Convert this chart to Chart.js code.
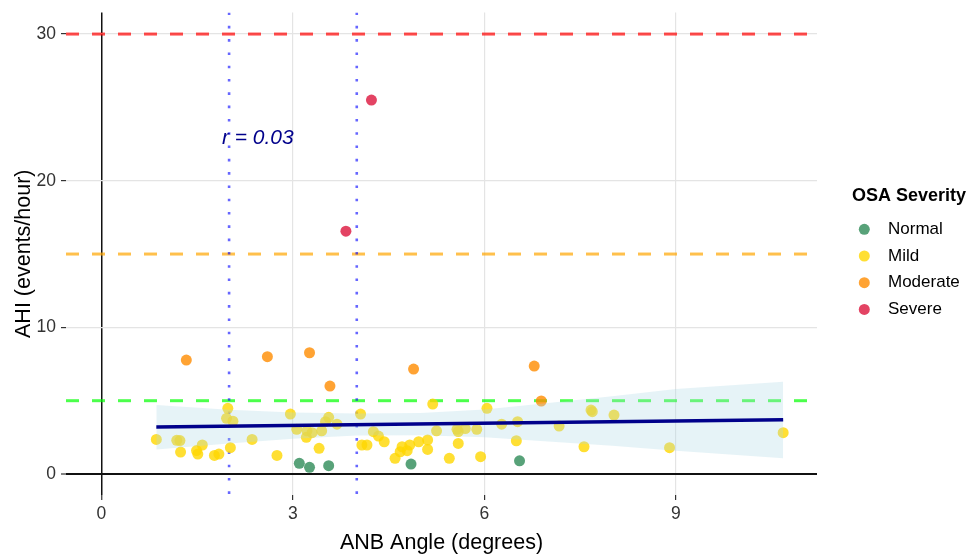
<!DOCTYPE html>
<html>
<head>
<meta charset="utf-8">
<script src="https://cdn.jsdelivr.net/npm/chart.js@4.4.1/dist/chart.umd.min.js"></script>
<style>
  html, body { margin: 0; padding: 0; background: #fff; }
  #wrap { width: 970px; height: 556px; }
</style>
</head>
<body>
<div id="wrap"><canvas id="chart" width="970" height="556"></canvas></div>
<script>
const FONT = '"Liberation Sans", Arial, Helvetica, sans-serif';

// points (ANB angle, AHI)
const normalX = [3.10, 3.26, 3.56, 4.85, 6.55];
const normalY = [0.73, 0.46, 0.57, 0.68, 0.90];

const mildX = [0.86, 1.18, 1.23, 1.24, 1.49, 1.51, 1.58, 1.77, 1.84, 1.96,
               1.98, 2.02, 2.06, 2.36, 2.75, 2.96, 3.06, 3.21, 3.22, 3.30,
               3.41, 3.45, 3.51, 3.56, 3.69, 4.06, 4.08, 4.16, 4.26, 4.34,
               4.43, 4.60, 4.68, 4.71, 4.79, 4.83, 4.97, 5.11, 5.11, 5.19,
               5.25, 5.45, 5.57, 5.59, 5.59, 5.70, 5.88, 5.94, 6.04, 6.27,
               6.50, 6.52, 7.17, 7.56, 7.67, 7.69, 8.03, 8.90, 10.68];
const mildY = [2.36, 2.30, 2.28, 1.50, 1.60, 1.36, 1.98, 1.27, 1.36, 3.80,
               4.48, 1.80, 3.60, 2.36, 1.27, 4.09, 3.05, 2.50, 2.95, 2.82,
               1.75, 2.95, 3.57, 3.87, 3.40, 4.09, 1.98, 1.98, 2.89, 2.59,
               2.20, 1.07, 1.52, 1.86, 1.59, 1.98, 2.20, 2.32, 1.68, 4.77,
               2.95, 1.07, 3.05, 2.90, 2.09, 3.10, 3.05, 1.18, 4.48, 3.40,
               2.27, 3.57, 3.27, 1.86, 4.36, 4.25, 4.02, 1.80, 2.82];

const moderateX = [1.33, 2.60, 3.26, 3.58, 4.89, 6.78, 6.89];
const moderateY = [7.77, 8.00, 8.27, 6.00, 7.16, 7.36, 4.98];

const severeX = [3.83, 4.23];
const severeY = [16.56, 25.50];

// linear fit and its confidence band
const regX = [0.86, 10.68];
const regY = [3.20, 3.70];
const bandX = [0.86, 2, 3, 4, 5, 6, 7, 8, 9, 10.68];
const bandUpper = [4.70, 4.38, 4.20, 4.13, 4.16, 4.40, 4.85, 5.30, 5.80, 6.29];
const bandLower = [1.68, 2.08, 2.40, 2.62, 2.64, 2.50, 2.22, 1.92, 1.58, 1.07];

// reference lines
const cutoffs = [5, 15, 30];
const cutoffColors = ['rgba(0,255,0,0.7)', 'rgba(255,165,0,0.7)', 'rgba(255,0,0,0.7)'];
const anbLimits = [2, 4];

const xTicks = [0, 3, 6, 9];
const yTicks = [0, 10, 20, 30];
const xMin = -0.555, xMax = 11.21;
const yMin = -1.43, yMax = 31.47;

const severityNames = ['Normal', 'Mild', 'Moderate', 'Severe'];
const severityColors = ['rgba(46,139,87,0.8)', 'rgba(255,215,0,0.8)',
                        'rgba(255,140,0,0.8)', 'rgba(220,20,60,0.8)'];

const rLabel = 'r = 0.03';
const rPos = { x: 2.45, y: 22.9 };

const pts = (xs, ys) => xs.map((x, i) => ({ x: x, y: ys[i] }));

const pointSet = (i, xs, ys) => ({
  label: severityNames[i],
  data: pts(xs, ys),
  backgroundColor: severityColors[i],
  borderWidth: 0,
  pointRadius: 5.5,
  order: 6 - i
});

const datasets = [];
datasets.push({
  label: 'fit',
  data: pts(regX, regY),
  showLine: true,
  borderColor: '#00008B',
  borderWidth: 3.5,
  pointRadius: 0,
  order: 0
});
datasets.push({
  label: 'upper',
  data: pts(bandX, bandUpper),
  showLine: true,
  borderWidth: 0,
  pointRadius: 0,
  fill: '+1',
  backgroundColor: 'rgba(173,216,230,0.3)',
  order: 1
});
datasets.push({
  label: 'lower',
  data: pts(bandX, bandLower),
  showLine: true,
  borderWidth: 0,
  pointRadius: 0,
  order: 2
});
datasets.push(pointSet(3, severeX, severeY));
datasets.push(pointSet(2, moderateX, moderateY));
datasets.push(pointSet(1, mildX, mildY));
datasets.push(pointSet(0, normalX, normalY));

anbLimits.forEach(v => {
  datasets.push({
    label: 'anb' + v,
    data: [{ x: v, y: yMax }, { x: v, y: yMin }],
    showLine: true,
    borderColor: 'rgba(0,0,255,0.6)',
    borderWidth: 2.6,
    borderDash: [2.6, 10.7],
    pointRadius: 0,
    order: 7
  });
});
cutoffs.forEach((v, i) => {
  datasets.push({
    label: 'cut' + v,
    data: [{ x: xMin, y: v }, { x: xMax, y: v }],
    showLine: true,
    borderColor: cutoffColors[i],
    borderWidth: 3,
    borderDash: [13, 13],
    pointRadius: 0,
    order: 8
  });
});

// r annotation and the severity legend
const extras = {
  id: 'extras',
  afterDatasetsDraw(chart) {
    const ctx = chart.ctx;
    const xs = chart.scales.x, ys = chart.scales.y;
    ctx.save();
    ctx.font = 'italic 21px ' + FONT;
    ctx.fillStyle = '#00008B';
    ctx.textAlign = 'center';
    ctx.textBaseline = 'middle';
    ctx.fillText(rLabel, xs.getPixelForValue(rPos.x), ys.getPixelForValue(rPos.y));
    ctx.restore();
  },
  afterDraw(chart) {
    const ctx = chart.ctx;
    ctx.save();
    ctx.textAlign = 'left';
    ctx.textBaseline = 'middle';
    ctx.fillStyle = '#000';
    ctx.font = 'bold 18px ' + FONT;
    ctx.fillText('OSA Severity', 852, 196);
    ctx.font = '17px ' + FONT;
    severityNames.forEach((name, i) => {
      const y = 229.3 + i * 26.7;
      ctx.beginPath();
      ctx.arc(864.3, y, 5.5, 0, Math.PI * 2);
      ctx.fillStyle = severityColors[i];
      ctx.fill();
      ctx.fillStyle = '#000';
      ctx.fillText(name, 888, y);
    });
    ctx.restore();
  }
};

new Chart(document.getElementById('chart'), {
  type: 'scatter',
  data: { datasets: datasets },
  options: {
    responsive: false,
    animation: false,
    layout: { padding: { left: 0, right: 153, top: 12.5, bottom: 0 } },
    plugins: {
      legend: { display: false },
      tooltip: { enabled: false }
    },
    scales: {
      x: {
        type: 'linear',
        min: xMin,
        max: xMax,
        afterBuildTicks: s => { s.ticks = xTicks.map(v => ({ value: v })); },
        afterFit: s => { s.height = 61; s.paddingLeft = 0; s.paddingRight = 0; },
        border: { display: false },
        grid: {
          color: c => (c.tick && c.tick.value === 0 ? '#111' : '#E4E4E4'),
          lineWidth: c => (c.tick && c.tick.value === 0 ? 1.5 : 1.2),
          tickColor: '#333',
          tickWidth: 1.2,
          tickLength: 5
        },
        ticks: { color: '#333', font: { family: FONT, size: 17.5 }, padding: 4, maxRotation: 0, autoSkip: false },
        title: {
          display: true,
          text: 'ANB Angle (degrees)',
          color: '#000',
          font: { family: FONT, size: 21.5 },
          padding: { top: 0, bottom: 0 }
        }
      },
      y: {
        type: 'linear',
        min: yMin,
        max: yMax,
        afterBuildTicks: s => { s.ticks = yTicks.map(v => ({ value: v })); },
        afterFit: s => { s.width = 66; s.paddingTop = 0; s.paddingBottom = 0; },
        border: { display: false },
        grid: {
          color: c => (c.tick && c.tick.value === 0 ? '#111' : '#E4E4E4'),
          lineWidth: c => (c.tick && c.tick.value === 0 ? 2 : 1.2),
          tickColor: '#333',
          tickWidth: 1.2,
          tickLength: 5
        },
        ticks: { color: '#333', font: { family: FONT, size: 17.5 }, padding: 5, autoSkip: false },
        title: {
          display: true,
          text: 'AHI (events/hour)',
          color: '#000',
          font: { family: FONT, size: 21.5 },
          padding: { top: 11, bottom: 0 }
        }
      }
    }
  },
  plugins: [extras]
});
</script>
</body>
</html>
